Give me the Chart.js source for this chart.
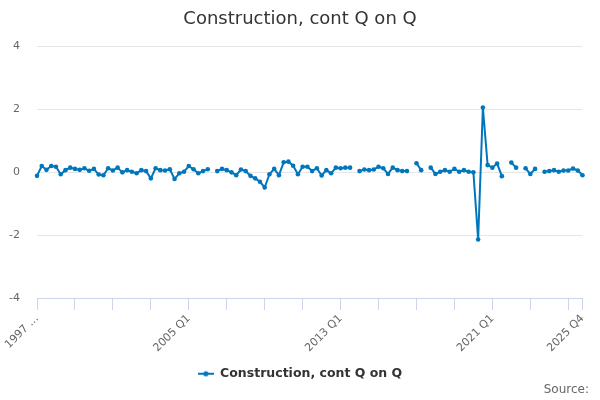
<!DOCTYPE html>
<html>
<head>
<meta charset="utf-8">
<script src="https://cdn.jsdelivr.net/npm/chart.js@4"></script>
<style>
  html, body { margin: 0; padding: 0; background: #fff; }
  #wrap { width: 600px; height: 400px; }
</style>
</head>
<body>
<div id="wrap"><canvas id="c" width="600" height="400"></canvas></div>
<script>
// ---- data ----
const startYear = 1997;
const endYear = 2025;
const quarters = ["Q1", "Q2", "Q3", "Q4"];
const categories = [];
for (let y = startYear; y <= endYear; y++) {
  for (const q of quarters) categories.push(y + " " + q);
}

const constructionContQonQ = [
  -0.12, 0.19, 0.07, 0.19, 0.17, -0.07, 0.06, 0.14, 0.10, 0.07,
  0.12, 0.04, 0.10, -0.08, -0.10, 0.12, 0.05, 0.14, -0.01, 0.06,
  0.01, -0.04, 0.06, 0.03, -0.20, 0.12, 0.06, 0.05, 0.09, -0.22,
  -0.04, 0.01, 0.19, 0.09, -0.04, 0.03, 0.09, null, 0.03, 0.10,
  0.06, -0.01, -0.10, 0.08, 0.03, -0.12, -0.20, -0.31, -0.49, -0.07,
  0.10, -0.10, 0.31, 0.33, 0.20, -0.07, 0.17, 0.17, 0.03, 0.12,
  -0.11, 0.06, -0.04, 0.14, 0.12, 0.14, 0.14, null, 0.03, 0.08,
  0.06, 0.08, 0.17, 0.12, -0.06, 0.14, 0.06, 0.03, 0.03, null,
  0.28, 0.06, null, 0.14, -0.06, 0.01, 0.06, 0.01, 0.10, 0.01,
  0.06, 0.01, -0.01, -2.14, 2.05, 0.22, 0.14, 0.27, -0.13, null,
  0.30, 0.14, null, 0.12, -0.06, 0.10, null, 0.01, 0.03, 0.06,
  0.01, 0.05, 0.05, 0.11, 0.05, -0.10
];

const labelledCategories = ["1997 Q1", "2005 Q1", "2013 Q1", "2021 Q1", "2025 Q4"];
const labelledTexts = ["1997 \u2026", "2005 Q1", "2013 Q1", "2021 Q1", "2025 Q4"];
const tickEvery = 8;
const yTicks = [-4, -2, 0, 2, 4];

const seriesName = "Construction, cont Q on Q";
const titleText = "Construction, cont Q on Q";
const sourceText = "Source:";

// ---- style ----
const BLUE = "#0077bd";
const FONT = "'DejaVu Sans', sans-serif";

// legend symbol: line with a dot
const sym = document.createElement("canvas");
sym.width = 16; sym.height = 8;
(function () {
  const g = sym.getContext("2d");
  g.strokeStyle = BLUE; g.lineWidth = 2;
  g.beginPath(); g.moveTo(0, 4); g.lineTo(16, 4); g.stroke();
  g.fillStyle = BLUE;
  g.beginPath(); g.arc(8, 4, 2.6, 0, Math.PI * 2); g.fill();
})();

const sourcePlugin = {
  id: "sourceText",
  afterDraw(chart) {
    const ctx = chart.ctx;
    ctx.save();
    ctx.font = "12px " + FONT;
    ctx.fillStyle = "#666666";
    ctx.textAlign = "right";
    ctx.textBaseline = "middle";
    ctx.fillText(sourceText, 589, 390);
    ctx.restore();
  }
};

new Chart(document.getElementById("c"), {
  type: "line",
  data: {
    labels: categories,
    datasets: [{
      label: seriesName,
      data: constructionContQonQ,
      borderColor: BLUE,
      backgroundColor: BLUE,
      borderWidth: 2,
      pointRadius: 2.3,
      pointBorderWidth: 0,
      pointBackgroundColor: BLUE,
      pointHoverRadius: 3,
      tension: 0,
      spanGaps: false,
      pointStyle: "circle"
    }]
  },
  options: {
    responsive: false,
    animation: false,
    devicePixelRatio: 1,
    layout: { padding: { left: 0, right: 0, top: 0, bottom: 10 } },
    plugins: {
      title: {
        display: true,
        text: titleText,
        color: "#333333",
        font: { family: FONT, size: 18, weight: "normal" },
        padding: { top: 8.5, bottom: 16 }
      },
      legend: {
        display: true,
        position: "bottom",
        labels: {
          color: "#333333",
          font: { family: FONT, size: 12.5, weight: "bold" },
          usePointStyle: true,
          pointStyleWidth: 16,
          boxHeight: 8,
          padding: 10,
          generateLabels(chart) {
            return [{
              text: seriesName,
              pointStyle: sym,
              fillStyle: BLUE,
              strokeStyle: BLUE,
              lineWidth: 0,
              hidden: false,
              datasetIndex: 0,
              fontColor: "#333333"
            }];
          }
        }
      },
      tooltip: { enabled: false }
    },
    scales: {
      x: {
        type: "category",
        offset: false,
        afterBuildTicks(scale) {
          scale.ticks = scale.ticks.filter(t => t.value % tickEvery === 0 || t.value === categories.length - 1);
        },
        afterFit(scale) { scale.height = 59.5; },
        grid: {
          display: true,
          drawOnChartArea: false,
          drawTicks: true,
          tickLength: 12,
          color: "#ccd6eb",
          lineWidth: 1
        },
        border: { display: true, color: "#ccd6eb", width: 1 },
        ticks: {
          autoSkip: false,
          minRotation: 45,
          maxRotation: 45,
          padding: 2,
          color: "#666666",
          font: { family: FONT, size: 11 },
          callback(value) {
            const cat = categories[value];
            const k = labelledCategories.indexOf(cat);
            return k >= 0 ? labelledTexts[k] : "";
          }
        }
      },
      y: {
        min: -4,
        max: 4,
        afterFit(scale) { scale.width = 37; },
        afterBuildTicks(scale) {
          scale.ticks = yTicks.map(v => ({ value: v }));
        },
        grid: {
          color: "#e6e6e6",
          drawTicks: false,
          lineWidth: 1
        },
        border: { display: false },
        ticks: {
          padding: 17,
          color: "#666666",
          font: { family: FONT, size: 11 }
        }
      },
      rightSpace: {
        type: "linear",
        position: "right",
        display: true,
        min: 0,
        max: 1,
        afterFit(scale) { scale.width = 17.5; },
        grid: { display: false, drawTicks: false },
        border: { display: false },
        ticks: { display: false }
      }
    }
  },
  plugins: [sourcePlugin]
});
</script>
</body>
</html>
